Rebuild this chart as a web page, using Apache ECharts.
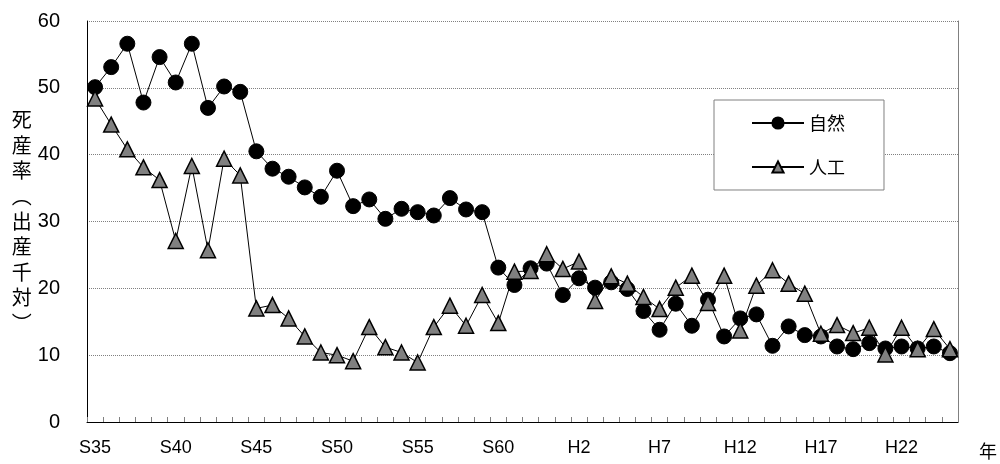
<!DOCTYPE html>
<html><head><meta charset="utf-8">
<script src="https://cdn.jsdelivr.net/npm/echarts@6/dist/echarts.min.js"></script>
<style>html,body{margin:0;padding:0;background:#fff}#c{width:1000px;height:464px}</style>
</head><body><div id="c"></div>
<script>
var years = ['S35','S36','S37','S38','S39','S40','S41','S42','S43','S44','S45','S46','S47','S48','S49','S50','S51','S52','S53','S54','S55','S56','S57','S58','S59','S60','S61','S62','S63','H1','H2','H3','H4','H5','H6','H7','H8','H9','H10','H11','H12','H13','H14','H15','H16','H17','H18','H19','H20','H21','H22','H23','H24','H25'];
var natural = [50.1,53.1,56.6,47.8,54.6,50.8,56.6,47.0,50.2,49.4,40.5,37.9,36.7,35.1,33.7,37.6,32.3,33.3,30.4,31.9,31.4,30.9,33.5,31.8,31.4,23.1,20.5,23.0,23.7,19.0,21.5,20.1,20.9,19.9,16.6,13.8,17.7,14.4,18.3,12.8,15.5,16.1,11.4,14.3,13.0,12.8,11.3,10.9,11.8,11.0,11.3,11.0,11.3,10.3];
var artificial = [48.4,44.5,40.8,38.1,36.2,27.1,38.3,25.7,39.4,36.9,17.0,17.5,15.5,12.8,10.4,10.0,9.1,14.2,11.2,10.4,8.9,14.2,17.4,14.4,19.0,14.8,22.5,22.6,25.1,22.9,24.0,18.1,21.8,20.7,18.7,16.9,20.1,21.9,17.8,21.9,13.7,20.4,22.7,20.7,19.2,13.2,14.5,13.3,14.1,10.1,14.1,10.9,13.9,10.9];
var seriesNames = ['自然','人工'];
var yTitle = '死\n産\n率\n︵\n出\n産\n千\n対\n︶';
var xName = '年';

var FONT = 'Liberation Sans, Noto Sans CJK JP, sans-serif';
var chart = echarts.init(document.getElementById('c'), null, {renderer:'canvas'});
chart.setOption({
  animation:false,
  backgroundColor:'#fff',
  textStyle:{fontFamily:FONT},
  grid:{left:87,right:42,top:21,bottom:42},
  legend:{
    orient:'vertical', left:714, top:100,
    backgroundColor:'#fff', borderColor:'#808080', borderWidth:1,
    padding:[14,39,14,37], itemGap:26, itemWidth:52, itemHeight:14,
    textStyle:{fontSize:18,color:'#000',fontFamily:'Noto Sans CJK JP'},
    data:seriesNames
  },
  xAxis:{
    type:'category', data:years, boundaryGap:true,
    name:xName, nameLocation:'end', nameGap:21,
    nameTextStyle:{fontSize:18,color:'#000',fontFamily:'Noto Sans CJK JP',verticalAlign:'top',padding:[20,0,0,0]},
    axisLine:{lineStyle:{color:'#000',width:1}},
    axisTick:{show:true,inside:true,length:5,interval:0,lineStyle:{color:'#808080'}},
    axisLabel:{interval:4,fontSize:18,color:'#000',margin:17}
  },
  yAxis:[{
    type:'value', min:0, max:60, interval:10,
    name:yTitle, nameLocation:'middle', nameRotate:0, nameGap:52,
    nameTextStyle:{fontSize:20,color:'#000',lineHeight:25.4,fontFamily:'Noto Sans CJK JP',padding:[0,0,9,0]},
    axisLine:{show:true,lineStyle:{color:'#000',width:1}},
    axisTick:{show:false},
    axisLabel:{fontSize:20,color:'#000',margin:27},
    splitLine:{show:true,lineStyle:{color:'#808080',type:'dotted',width:1}}
  },{
    type:'value', min:0, max:60, interval:10, position:'right',
    axisLine:{show:true,lineStyle:{color:'#808080',width:1}},
    axisTick:{show:false}, axisLabel:{show:false}, splitLine:{show:false}
  }],
  series:[{
    name:seriesNames[0], type:'line', data:natural,
    symbol:'circle', symbolSize:15, showSymbol:true, showAllSymbol:true,
    lineStyle:{color:'#000',width:1},
    itemStyle:{color:'#000',borderColor:'#000',borderWidth:1}
  },{
    name:seriesNames[1], type:'line', data:artificial,
    symbol:'triangle', symbolSize:15, showSymbol:true, showAllSymbol:true,
    lineStyle:{color:'#000',width:1},
    itemStyle:{color:'#808080',borderColor:'#000',borderWidth:1.5}
  }]
});
</script></body></html>
